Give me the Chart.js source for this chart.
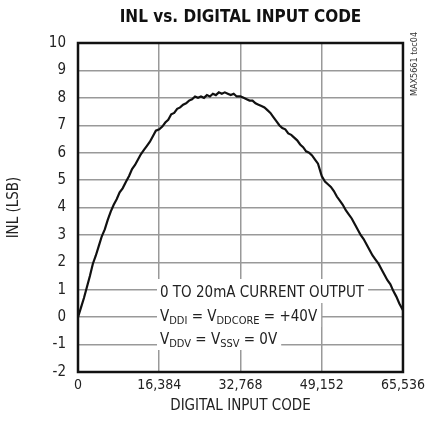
<!DOCTYPE html>
<html>
<head>
<meta charset="utf-8">
<script src="https://cdn.jsdelivr.net/npm/chart.js@4"></script>
<style>
  body { margin: 0; background: #fff; }
  #wrap { width: 430px; height: 432px; }
</style>
</head>
<body>
<div id="wrap"><canvas id="chart1" width="430" height="432"></canvas></div>
<script>
// INL curve (code, LSB)
const codes = [0,600,1200,1800,2400,3000,3600,4200,4800,5400,6000,6600,7200,7800,8400,9000,9700,10300,10900,11500,12100,12700,13300,13900,14500,15100,15700,16384,17000,17600,18200,18800,19400,20000,20600,21200,21800,22400,23000,23600,24200,24800,25400,26000,26600,27200,27800,28400,29000,29600,30200,30800,31400,32000,32768,33400,34000,34600,35200,35800,36400,37000,37600,38200,38800,39400,40000,40600,41200,41800,42400,43000,43600,44200,44800,45400,46000,46600,47200,47800,48400,49152,49800,50400,51000,51600,52200,52800,53400,54000,54600,55200,55800,56400,57000,57600,58200,58800,59400,60000,60600,61200,61800,62400,63000,63600,64200,64800,65535];
const inl = [0,0.35,0.7,1.1,1.5,1.95,2.25,2.6,2.95,3.2,3.55,3.85,4.1,4.3,4.55,4.7,4.95,5.15,5.4,5.55,5.75,5.95,6.1,6.25,6.4,6.6,6.8,6.85,6.95,7.1,7.2,7.4,7.45,7.6,7.65,7.75,7.8,7.9,7.95,8.05,8.0,8.05,8.0,8.1,8.05,8.15,8.1,8.2,8.15,8.2,8.15,8.1,8.15,8.05,8.05,8.0,7.95,7.9,7.9,7.8,7.75,7.7,7.65,7.55,7.45,7.3,7.15,7.0,6.9,6.85,6.7,6.65,6.55,6.45,6.3,6.2,6.05,6.0,5.9,5.75,5.6,5.15,4.95,4.85,4.75,4.6,4.4,4.25,4.1,3.9,3.75,3.6,3.4,3.2,3.0,2.85,2.65,2.45,2.25,2.1,1.95,1.75,1.55,1.35,1.2,0.95,0.75,0.5,0.25];

const xTicks = [0, 16384, 32768, 49152, 65536];
const yMin = -2, yMax = 10;

const narrow = '"Liberation Sans Narrow", "DejaVu Sans Condensed", "Arial Narrow", sans-serif';
const textColor = '#222';

// note lines: [text, isSub] pieces
const noteLines = [
  [['0 TO 20mA CURRENT OUTPUT', false]],
  [['V', false], ['DDI', true], [' = V', false], ['DDCORE', true], [' = +40V', false]],
  [['V', false], ['DDV', true], [' = V', false], ['SSV', true], [' = 0V', false]]
];

const extras = {
  id: 'extras',
  beforeDatasetsDraw(chart) {
    const c = chart.ctx;
    c.save();
    c.textBaseline = 'alphabetic';
    const x0 = 160;
    const rowTop = [279, 303, 326];
    const rowBase = [297, 321, 344];
    noteLines.forEach((parts, i) => {
      let w = 0;
      parts.forEach(p => {
        c.font = (p[1] ? '11px ' : '15px ') + narrow;
        w += c.measureText(p[0]).width;
      });
      c.fillStyle = '#fff';
      c.fillRect(x0 - 3, rowTop[i], w + 7, 24);
      let x = x0;
      c.fillStyle = textColor;
      parts.forEach(p => {
        c.font = (p[1] ? '11px ' : '15px ') + narrow;
        c.fillText(p[0], x, rowBase[i] + (p[1] ? 3 : 0));
        x += c.measureText(p[0]).width;
      });
    });
    c.restore();
  },
  afterDraw(chart) {
    const c = chart.ctx;
    const a = chart.chartArea;
    c.save();
    c.strokeStyle = '#111';
    c.lineWidth = 2.5;
    c.strokeRect(a.left, a.top, a.right - a.left, a.bottom - a.top);
    // title, centred over the plot
    c.font = 'bold 17px ' + narrow;
    c.fillStyle = '#111';
    c.textAlign = 'center';
    c.textBaseline = 'middle';
    c.fillText('INL vs. DIGITAL INPUT CODE', (a.left + a.right) / 2, 18);
    // figure id on the right
    c.translate(415, 64);
    c.rotate(-Math.PI / 2);
    c.font = '9px ' + narrow;
    c.fillStyle = '#333';
    c.fillText('MAX5661 toc04', 0, 0);
    c.restore();
  }
};

const ctx1 = document.getElementById('chart1').getContext('2d');
new Chart(ctx1, {
  type: 'line',
  data: {
    datasets: [{
      data: codes.map((x, i) => ({ x: x, y: inl[i] })),
      borderColor: '#111',
      borderWidth: 2.2,
      pointRadius: 0,
      tension: 0
    }]
  },
  options: {
    responsive: false,
    animation: false,
    layout: { padding: { left: 0, right: 24, top: 43, bottom: 0 } },
    plugins: {
      legend: { display: false },
      tooltip: { enabled: false },
      title: { display: false }
    },
    scales: {
      x: {
        type: 'linear',
        min: 0, max: 65536,
        afterBuildTicks: s => { s.ticks = xTicks.map(v => ({ value: v })); },
        afterFit: s => { s.height = 60; },
        grid: { color: '#999', lineWidth: 1.5, drawTicks: false },
        border: { display: false },
        ticks: {
          color: textColor, padding: 5, maxRotation: 0,
          font: { family: narrow, size: 14 },
          callback: v => v.toLocaleString('en-US')
        },
        title: {
          display: true, text: 'DIGITAL INPUT CODE', color: textColor,
          font: { family: narrow, size: 15 }, padding: { top: 0, bottom: 17 }
        }
      },
      y: {
        min: yMin, max: yMax,
        afterFit: s => { s.width = 78; },
        grid: { color: '#999', lineWidth: 1.5, drawTicks: false },
        border: { display: false },
        ticks: {
          stepSize: 1, color: textColor, padding: 12,
          font: { family: narrow, size: 15 }
        },
        title: {
          display: true, text: 'INL (LSB)', color: textColor,
          font: { family: narrow, size: 15 }, padding: { top: 5, bottom: 0 }
        }
      }
    }
  },
  plugins: [extras]
});
</script>
</body>
</html>
